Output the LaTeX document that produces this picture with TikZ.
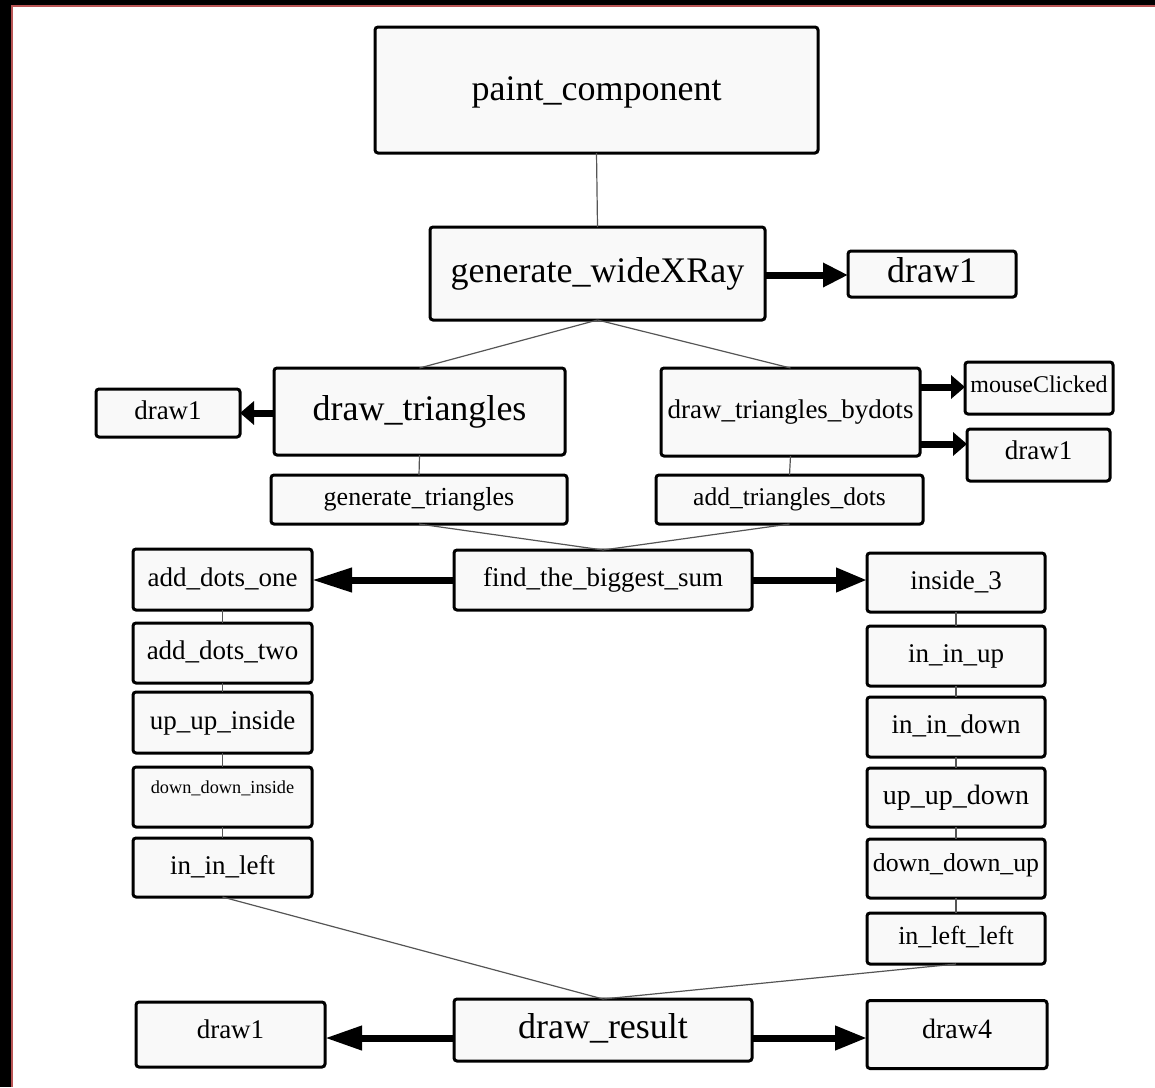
\documentclass[tikz,border=0pt]{standalone}
\usepackage{fontspec}
\setmainfont{Liberation Serif}
\usetikzlibrary{arrows.meta}
\definecolor{boxfill}{HTML}{F9F9F9}
\definecolor{edgered}{RGB}{185,85,85}
\definecolor{thingray}{HTML}{555555}
\tikzset{
  box/.style={draw=black, line width=3pt, rounded corners=3pt, fill=boxfill,
    inner sep=0pt, outer sep=0pt, align=center},
  bigtxt/.style={font=\fontsize{36}{40}\selectfont, text height=25pt, text depth=8pt},
  midtxt/.style={font=\fontsize{27}{30}\selectfont, text height=19pt, text depth=6pt},
  thinline/.style={draw=thingray, line width=1.2pt},
  fatarrow/.style={draw=black, line width=7pt, -{Triangle[length=#1, width=23pt]}},
  fatarrow/.default=32pt
}
\begin{document}
\begin{tikzpicture}[x=1pt, y=-1pt]
\useasboundingbox (0,0) rectangle (1155,1087);
% frame edges
\fill[black] (0,0) rectangle (11,1087);
\fill[black] (0,0) rectangle (1155,5);
\fill[edgered] (10.5,5) rectangle (12.5,1087);
\fill[edgered] (10.5,4.5) rectangle (1155,6.5);

% nodes
\node[box, bigtxt, minimum width=443pt, minimum height=126pt] (pc) at (596.5,90) {\raisebox{-2pt}{paint\_component}};
\node[box, bigtxt, minimum width=335pt, minimum height=93pt] (gw) at (597.5,273.5) {generate\_wideXRay};
\node[box, bigtxt, minimum width=168pt, minimum height=46pt] (d1a) at (932,274) {draw1};
\node[box, bigtxt, minimum width=291pt, minimum height=87pt] (dt) at (419.5,411.5) {draw\_triangles};
\node[box, midtxt, minimum width=144pt, minimum height=48pt] (d1b) at (168,413) {draw1};
\node[box, midtxt, minimum width=259pt, minimum height=88pt] (bd) at (790.5,412) {draw\_triangles\_bydots};
\node[box, font=\fontsize{24}{26}\selectfont, text height=17pt, text depth=5pt, minimum width=148pt, minimum height=52pt] (mc) at (1039,388) {\raisebox{2pt}{mouseClicked}};
\node[box, midtxt, minimum width=143pt, minimum height=52pt] (d1c) at (1038.5,455) {\raisebox{2pt}{draw1}};
\node[box, font=\fontsize{26}{28}\selectfont, text height=18pt, text depth=6pt, minimum width=296pt, minimum height=49pt] (gt) at (419,499.5) {generate\_triangles};
\node[box, font=\fontsize{25.5}{28}\selectfont, text height=18pt, text depth=6pt, minimum width=267pt, minimum height=49pt] (atd) at (789.5,499.5) {add\_triangles\_dots};
\node[box, midtxt, minimum width=298pt, minimum height=60pt] (fbs) at (603,580) {find\_the\_biggest\_sum};

\node[box, midtxt, minimum width=179pt, minimum height=61pt] (ado) at (222.5,579.5) {add\_dots\_one};
\node[box, midtxt, minimum width=179pt, minimum height=60pt] (adt) at (222.5,653) {add\_dots\_two};
\node[box, midtxt, minimum width=179pt, minimum height=61pt] (uui) at (222.5,722.5) {up\_up\_inside};
\node[box, font=\fontsize{18.3}{20}\selectfont, text height=13pt, text depth=4pt, minimum width=179pt, minimum height=60pt] (ddi) at (222.5,797) {\raisebox{8pt}{down\_down\_inside}};
\node[box, midtxt, minimum width=179pt, minimum height=59pt] (iil) at (222.5,867.5) {in\_in\_left};

\node[box, midtxt, minimum width=178pt, minimum height=59pt] (i3) at (956,582.5) {inside\_3};
\node[box, midtxt, minimum width=178pt, minimum height=60pt] (iiu) at (956,656) {in\_in\_up};
\node[box, midtxt, minimum width=178pt, minimum height=60pt] (iid) at (956,727) {in\_in\_down};
\node[box, font=\fontsize{28}{30}\selectfont, text height=20pt, text depth=6pt, minimum width=178pt, minimum height=59pt] (uud) at (956,797.5) {up\_up\_down};
\node[box, font=\fontsize{25.8}{28}\selectfont, text height=18pt, text depth=6pt, minimum width=178pt, minimum height=59pt] (ddu) at (956,868.5) {\raisebox{3pt}{down\_down\_up}};
\node[box, font=\fontsize{26}{28}\selectfont, text height=18pt, text depth=6pt, minimum width=178pt, minimum height=51pt] (ill) at (956,938.5) {in\_left\_left};

\node[box, bigtxt, minimum width=298pt, minimum height=62pt] (dr) at (603,1030) {draw\_result};
\node[box, midtxt, minimum width=189pt, minimum height=65pt] (d1d) at (230.5,1034.5) {\raisebox{3pt}{draw1}};
\node[box, font=\fontsize{28}{30}\selectfont, text height=20pt, text depth=6pt, minimum width=180pt, minimum height=68pt] (d4) at (957,1034.5) {\raisebox{3pt}{draw4}};

% thin connectors
\draw[thinline] (pc.south) -- (gw.north);
\draw[thinline] (gw.south) -- (dt.north);
\draw[thinline] (gw.south) -- (bd.north);
\draw[thinline] (dt.south) -- (gt.north);
\draw[thinline] (bd.south) -- (atd.north);
\draw[thinline] (gt.south) -- (fbs.north);
\draw[thinline] (atd.south) -- (fbs.north);
\draw[thinline] (ado.south) -- (adt.north);
\draw[thinline] (adt.south) -- (uui.north);
\draw[thinline] (uui.south) -- (ddi.north);
\draw[thinline] (ddi.south) -- (iil.north);
\draw[thinline] (i3.south) -- (iiu.north);
\draw[thinline] (iiu.south) -- (iid.north);
\draw[thinline] (iid.south) -- (uud.north);
\draw[thinline] (uud.south) -- (ddu.north);
\draw[thinline] (ddu.south) -- (ill.north);
\draw[thinline] (iil.south) -- (dr.north);
\draw[thinline] (ill.south) -- (dr.north);

% thick arrows
\coordinate (gwa) at ([yshift=-1.5pt]gw.east);
\draw[fatarrow=25pt] (gwa) -- (gwa -| d1a.west);
\draw[fatarrow=14pt] (dt.west |- d1b.east) -- (d1b.east);
\coordinate (bda) at ([yshift=25pt]bd.east);
\coordinate (bdb) at ([yshift=-32pt]bd.east);
\draw[fatarrow=14pt] (bda) -- (bda -| mc.west);
\draw[fatarrow=14pt] (bdb) -- (bdb -| d1c.west);
\draw[fatarrow=40pt] (fbs.west) -- (fbs.west -| ado.east);
\draw[fatarrow=31pt] (fbs.east) -- (fbs.east -| i3.west);
\coordinate (dra) at ([yshift=-8pt]dr.west);
\coordinate (drb) at ([yshift=-8pt]dr.east);
\draw[fatarrow=37pt] (dra) -- (dra -| d1d.east);
\draw[fatarrow=32pt] (drb) -- (drb -| d4.west);
\end{tikzpicture}
\end{document}
